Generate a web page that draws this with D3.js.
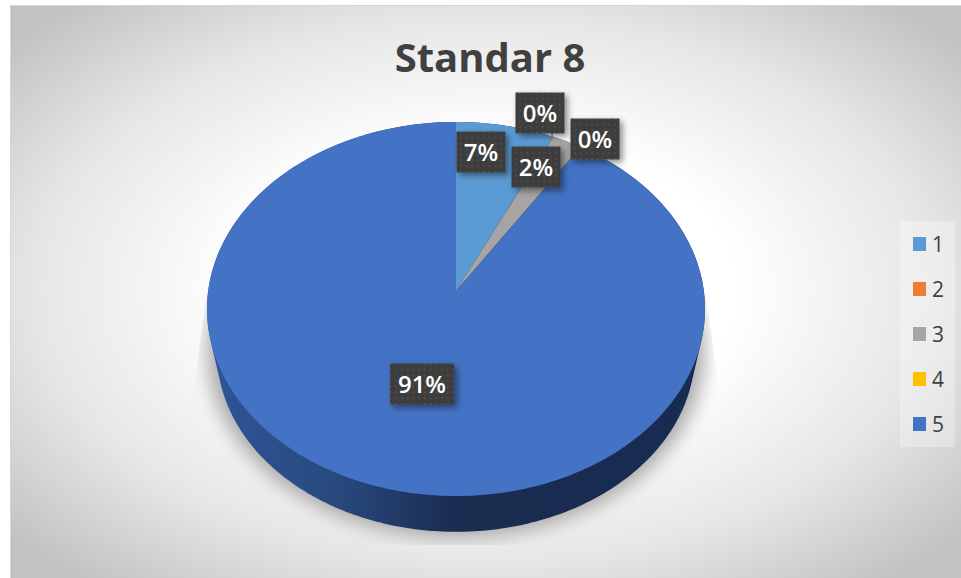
<!DOCTYPE html>
<html>
<head>
<meta charset="utf-8">
<script src="https://cdn.jsdelivr.net/npm/d3@7"></script>
<style>
  html, body { margin: 0; padding: 0; background: #fff; overflow: hidden; }
  svg { display: block; font-family: "Open Sans", Lato, sans-serif; }
</style>
</head>
<body>
<svg id="chart" width="961" height="578"></svg>
<script>
const categories = ['1', '2', '3', '4', '5'];
const shares = [7, 0.02, 2.1, 0.02, 90.86];
const colorValues = ['#5b9bd5', '#ed7d31', '#a5a5a5', '#ffc000', '#4472c4'];
const titleText = 'Standar 8';

// the labels were moved by hand in the original, so their centres are not on the slices
const labelCenters = [[481, 152], [540, 113], [536, 167], [595, 139], [422, 384]];

const svg = d3.select('#chart');
const defs = svg.append('defs');

const bg = defs.append('radialGradient').attr('id', 'bg')
  .attr('gradientUnits', 'userSpaceOnUse')
  .attr('cx', 0).attr('cy', 0).attr('r', 1)
  .attr('gradientTransform', 'translate(485,290) scale(625,380)');
bg.append('stop').attr('offset', 0.4).attr('stop-color', '#ffffff');
bg.append('stop').attr('offset', 0.72).attr('stop-color', '#e6e6e6');
bg.append('stop').attr('offset', 1.0).attr('stop-color', '#c2c2c2');

const wall = defs.append('linearGradient').attr('id', 'wall')
  .attr('gradientUnits', 'userSpaceOnUse')
  .attr('x1', 207).attr('x2', 705).attr('y1', 0).attr('y2', 0);
wall.append('stop').attr('offset', 0).attr('stop-color', '#2f5597');
wall.append('stop').attr('offset', 0.25).attr('stop-color', '#294a80');
wall.append('stop').attr('offset', 0.5).attr('stop-color', '#1a2c50');
wall.append('stop').attr('offset', 1).attr('stop-color', '#172b50');

defs.append('filter').attr('id', 'shadowBlur')
  .attr('x', '-10%').attr('y', '-10%').attr('width', '120%').attr('height', '120%')
  .append('feGaussianBlur').attr('stdDeviation', 9);

const boxShadow = defs.append('filter').attr('id', 'boxShadow')
  .attr('x', '-30%').attr('y', '-30%').attr('width', '170%').attr('height', '170%');
boxShadow.append('feDropShadow')
  .attr('dx', 3).attr('dy', 3).attr('stdDeviation', 3)
  .attr('flood-color', '#000').attr('flood-opacity', 0.45);

const dots = defs.append('pattern').attr('id', 'dots')
  .attr('patternUnits', 'userSpaceOnUse')
  .attr('width', 5.7).attr('height', 5.7);
dots.append('rect').attr('width', 5.7).attr('height', 5.7).attr('fill', '#3e3e3e');
dots.append('rect').attr('x', 2).attr('y', 2).attr('width', 1.6).attr('height', 1.6).attr('fill', '#525252');

defs.append('clipPath').attr('id', 'shadowClip')
  .append('polygon')
  .attr('points', '207,290 191,410 191,545 722,545 722,410 705,290');

// chart area
svg.append('rect')
  .attr('x', 10).attr('y', 5).attr('width', 951).attr('height', 573)
  .attr('fill', 'url(#bg)');
svg.append('path')
  .attr('d', 'M10.5,578V5.5H961')
  .attr('fill', 'none').attr('stroke', '#d6d6d6');

// tilted pie: unit circle seen in perspective, apex stays where the slices meet
const apexX = 456, apexY = 291;
const radiusX = 247.8, radiusY = 185.3, tilt = -0.0963;

function project(angle, scale = 1, shiftY = 0) {
  const u = Math.sin(angle), v = -Math.cos(angle);
  const w = 1 + tilt * v;
  return [apexX + scale * radiusX * u / w, apexY + shiftY + scale * radiusY * v / w];
}

const rimAngles = d3.range(0, 2 * Math.PI, Math.PI / 180);
const line = d3.line();

// side wall is the hull of the top rim and a smaller bottom rim
const bottomRim = rimAngles.map((a) => project(a, 0.96, 44));
const topRim = rimAngles.map((a) => project(a));
const wallHull = d3.polygonHull(topRim.concat(bottomRim));

const shadowRim = rimAngles.map((a) => project(a, 1.0, 42));
svg.append('g').attr('clip-path', 'url(#shadowClip)')
  .append('path')
  .attr('d', line(d3.polygonHull(shadowRim)) + 'Z')
  .attr('fill', '#aaaaaa')
  .attr('filter', 'url(#shadowBlur)');

svg.append('path')
  .attr('d', line(wallHull) + 'Z')
  .attr('fill', 'url(#wall)');

const slices = d3.pie().sort(null)(shares);

function slicePath(d) {
  const steps = Math.max(2, Math.ceil((d.endAngle - d.startAngle) / (Math.PI / 180)));
  const pts = d3.range(steps + 1).map((i) =>
    project(d.startAngle + (d.endAngle - d.startAngle) * i / steps));
  return line([[apexX, apexY], ...pts]) + 'Z';
}

svg.append('g').selectAll('path')
  .data(slices)
  .join('path')
  .attr('d', slicePath)
  .attr('fill', (d, i) => colorValues[i]);

// leader line of the upper 0% label
svg.append('path')
  .attr('d', 'M552,133V137')
  .attr('stroke', '#8c8c8c').attr('stroke-width', 1.5);

// data labels
const boxW = 49, boxH = 41;
const labels = svg.append('g').selectAll('g')
  .data(slices)
  .join('g')
  .attr('transform', (d, i) => `translate(${labelCenters[i][0]},${labelCenters[i][1]})`);

labels.append('rect')
  .attr('x', (d, i) => -(i === 4 ? 32 : boxW / 2))
  .attr('y', -boxH / 2)
  .attr('width', (d, i) => (i === 4 ? 64 : boxW))
  .attr('height', boxH)
  .attr('fill', 'url(#dots)')
  .attr('filter', 'url(#boxShadow)');

labels.append('text')
  .attr('text-anchor', 'middle')
  .attr('y', 9)
  .attr('fill', '#fff')
  .attr('font-size', 24)
  .attr('font-weight', 600)
  .text((d) => `${Math.round(d.value)}%`);

// title
svg.append('text')
  .attr('x', 490).attr('y', 72)
  .attr('text-anchor', 'middle')
  .attr('fill', '#404040')
  .attr('font-size', 40)
  .attr('font-weight', 700)
  .text(titleText);

// legend
svg.append('rect')
  .attr('x', 900).attr('y', 221).attr('width', 55).attr('height', 226)
  .attr('fill', '#fff').attr('fill-opacity', 0.3);

const legendY = d3.scalePoint().domain(categories).range([244, 424]);

const legendItems = svg.append('g').selectAll('g')
  .data(categories)
  .join('g')
  .attr('transform', (d) => `translate(913,${legendY(d)})`);

legendItems.append('rect')
  .attr('y', -7).attr('width', 13).attr('height', 14)
  .attr('fill', (d, i) => colorValues[i]);

legendItems.append('text')
  .attr('x', 19).attr('y', 7.5)
  .attr('fill', '#404040')
  .attr('font-size', 21)
  .text((d) => d);
</script>
</body>
</html>
